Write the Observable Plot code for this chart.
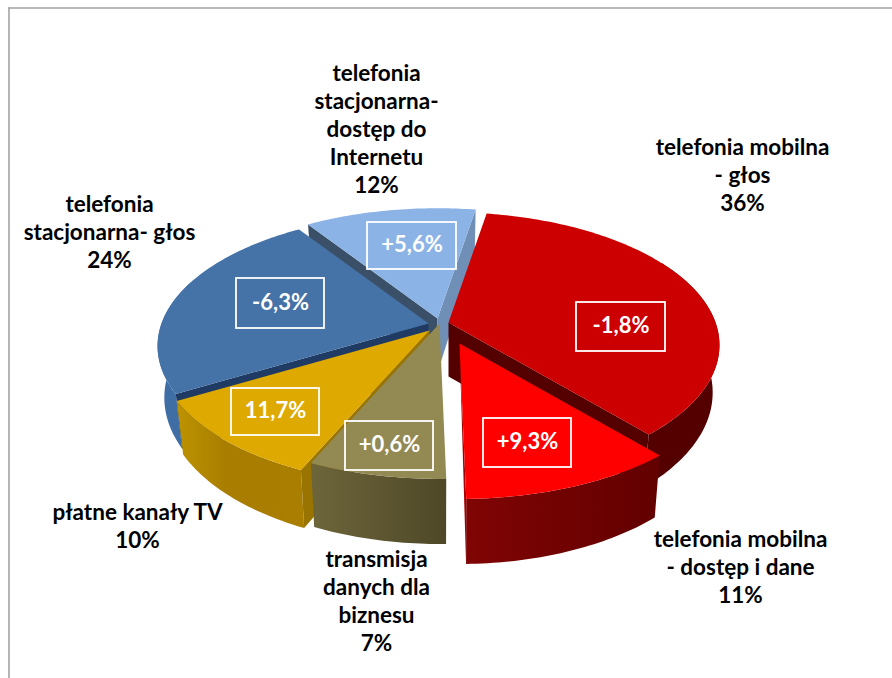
<!DOCTYPE html>
<html lang="pl">
<head>
<meta charset="utf-8">
<style>html,body{margin:0;padding:0;background:#fff}svg{display:block}</style>
<script src="https://cdn.jsdelivr.net/npm/d3@7"></script>
<script src="https://cdn.jsdelivr.net/npm/@observablehq/plot@0.6"></script>
</head>
<body>
<div id="chart"></div>
<script>
// ---- chart values ----
const categories = [
  "telefonia mobilna\n- głos",
  "telefonia mobilna\n- dostęp i dane",
  "transmisja\ndanych dla\nbiznesu",
  "płatne kanały TV",
  "telefonia\nstacjonarna- głos",
  "telefonia\nstacjonarna-\ndostęp do\nInternetu"
];
const shares = [36, 11, 7, 10, 24, 12];
const changes = ["-1,8%", "+9,3%", "+0,6%", "11,7%", "-6,3%", "+5,6%"];

// ---- layout, one entry per category ----
const apexX = [448, 459, 439, 429, 428, 437];
const apexY = [322, 343, 323, 330, 323, 318];
const depths = [46, 54, 54, 49, 50, 54];
const labelX = [742, 740, 376, 137, 109, 376];
const labelY = [148, 540, 560, 513, 205, 74];
const boxX1 = [576, 483, 345, 231, 236, 367];
const boxX2 = [665, 571, 433, 319, 324, 456];
const boxY1 = [302, 418, 421, 388, 278, 222];
const boxY2 = [351, 467, 470, 435, 328, 269];
const topColors = ["#cc0000", "#ff0000", "#938953", "#dea900", "#4572a7", "#8cb3e6"];

// ---- projection of the tilted pie ----
const startAngle = 9.6, radiusX = 267, radiusY = 129, tilt = 0.17, shrink = 0.975;
const rad = a => a * Math.PI / 180;
const scaleAt = a => 1 / (1 + tilt * Math.cos(rad(a)));
const topPt = (i, a) => ({
  x: apexX[i] + radiusX * Math.sin(rad(a)) * scaleAt(a),
  y: apexY[i] - radiusY * Math.cos(rad(a)) * scaleAt(a)
});
const botPt = (i, a) => {
  const p = topPt(i, a);
  return {x: apexX[i] + (p.x - apexX[i]) * shrink, y: p.y + depths[i] * scaleAt(a)};
};
const apexTop = i => ({x: apexX[i], y: apexY[i]});
const apexBot = i => ({x: apexX[i], y: apexY[i] + 54});

const bounds = [];
shares.reduce((acc, s) => { bounds.push([acc, acc + s * 3.6]); return acc + s * 3.6; }, startAngle);
const arc = (i, pt, from = bounds[i][0], to = bounds[i][1]) => {
  const pts = [];
  const n = Math.max(2, Math.ceil(Math.abs(to - from)));
  for (let k = 0; k <= n; ++k) pts.push(pt(i, from + (to - from) * k / n));
  return pts;
};
const topFace = i => [apexTop(i), ...arc(i, topPt)];
const rim = (i, from, to) => [...arc(i, topPt, from, to), ...arc(i, botPt, from, to).reverse()];
const wallAt = (i, a) => [apexTop(i), topPt(i, a), botPt(i, a), apexBot(i)];

const face = (pts, fill) => Plot.line(pts, {x: "x", y: "y", fill, stroke: "none"});

const [VOICE, DATA, BIZ, TV, FIXED, NET] = [0, 1, 2, 3, 4, 5];

const labelRows = categories.map((c, i) => ({text: `${c}\n${shares[i]}%`, x: labelX[i], y: labelY[i]}));
const boxRows = changes.map((c, i) => ({text: c, x1: boxX1[i], x2: boxX2[i], y1: boxY1[i], y2: boxY2[i]}));
const font = "Lato, 'Open Sans', sans-serif";

const marks = [
  Plot.ruleX([8.5], {y1: 7.5, y2: 678, stroke: "#a3a3a3", strokeWidth: 1.6}),
  Plot.ruleY([7.5], {x1: 8, x2: 892, stroke: "#a3a3a3", strokeWidth: 1.6}),

  // back slice: fixed-line internet
  face(wallAt(NET, bounds[NET][0]), "#3a5068"),
  face(wallAt(NET, bounds[NET][1]), "#6f8fb7"),
  face(topFace(NET), topColors[NET]),

  // fixed-line voice
  face(rim(FIXED, bounds[FIXED][0], 290), "#3f6ea5"),
  face(wallAt(FIXED, bounds[FIXED][0]), "#1f3a63"),
  face(topFace(FIXED), topColors[FIXED]),

  // mobile voice
  face(wallAt(VOICE, bounds[VOICE][1]), "#550000"),
  face(rim(VOICE, 60, bounds[VOICE][1]), "#550000"),
  face(topFace(VOICE), topColors[VOICE]),

  // pay TV
  face(rim(TV, bounds[TV][0], bounds[TV][1]), "url(#gTV)"),
  face(wallAt(TV, bounds[TV][0]), "#9a7400"),
  face(topFace(TV), topColors[TV]),

  // business data
  face(rim(BIZ, bounds[BIZ][0], bounds[BIZ][1]), "url(#gBiz)"),
  face(topFace(BIZ), topColors[BIZ]),

  // mobile data
  face([apexTop(DATA), topPt(DATA, bounds[DATA][1]), botPt(DATA, bounds[DATA][1])], "#a80000"),
  face(rim(DATA, bounds[DATA][0], bounds[DATA][1]), "url(#gData)"),
  face(topFace(DATA), topColors[DATA]),

  // change boxes
  Plot.rect(boxRows, {x1: "x1", x2: "x2", y1: "y1", y2: "y2", fill: "none", stroke: "#fff", strokeWidth: 1.8}),
  Plot.text(boxRows, {
    x: d => (d.x1 + d.x2) / 2, y: d => (d.y1 + d.y2) / 2 - 1, text: "text",
    fill: "#fff", fontSize: 22, fontWeight: 700, fontFamily: font
  }),

  // category labels: y is the middle of the first line
  Plot.text(labelRows, {
    x: "x", y: "y", text: "text", lineAnchor: "top", textAnchor: "middle", lineHeight: 1.24, dy: -13,
    fill: "#000", fontSize: 22.5, fontWeight: 700, fontFamily: font
  })
];

const svg = Plot.plot({
  width: 892, height: 678, margin: 0,
  x: {domain: [0, 892], range: [0, 892], axis: null},
  y: {domain: [0, 678], range: [0, 678], axis: null},
  style: {background: "#fff"},
  marks
});

const gradients = [
  ["gTV", [["0%", "#bd9300"], ["40%", "#a87d00"], ["100%", "#aa7f00"]]],
  ["gBiz", [["0%", "#6d653a"], ["100%", "#4e4828"]]],
  ["gData", [["0%", "#800404"], ["100%", "#620000"]]]
];
const defs = d3.select(svg).insert("defs", ":first-child");
for (const [id, stops] of gradients) {
  const g = defs.append("linearGradient").attr("id", id).attr("x1", 0).attr("x2", 1).attr("y1", 0).attr("y2", 0);
  for (const [o, c] of stops) g.append("stop").attr("offset", o).attr("stop-color", c);
}
document.getElementById("chart").append(svg);
</script>
</body>
</html>
